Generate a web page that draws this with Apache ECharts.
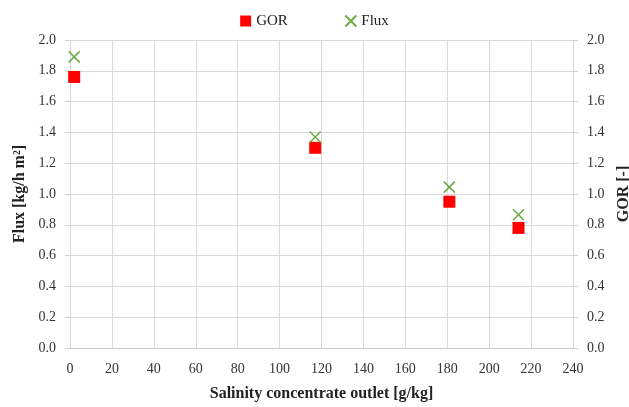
<!DOCTYPE html>
<html><head><meta charset="utf-8">
<script src="https://cdn.jsdelivr.net/npm/echarts@6/dist/echarts.min.js"></script>
<style>html,body{margin:0;padding:0;background:#fff}#c{width:629px;height:407px}</style>
</head><body><div id="c"></div>
<script>
const salinity = [2, 117, 181, 214];
const gor = [1.76, 1.30, 0.95, 0.78];
const flux = [1.89, 1.37, 1.045, 0.865];
const xTitle = 'Salinity concentrate outlet [g/kg]';
const yLeftTitle = 'Flux [kg/h m²]';
const yRightTitle = 'GOR [-]';

const font = 'Liberation Serif';
const chart = echarts.init(document.getElementById('c'));
const pairs = (xs, ys) => xs.map((x, i) => [x, ys[i]]);
const yAxisBase = {
  type: 'value', min: 0, max: 2, interval: 0.2,
  nameLocation: 'middle',
  nameTextStyle: {fontFamily: font, fontWeight: 'bold', fontSize: 16, color: '#222'},
  axisLabel: {fontFamily: font, fontSize: 14, color: '#333', margin: 14, formatter: v => v.toFixed(1)},
  axisLine: {show: false},
  axisTick: {show: true, length: 5, lineStyle: {color: '#d0d0d0'}},
  splitLine: {lineStyle: {color: '#d9d9d9'}}
};
chart.setOption({
  animation: false,
  legend: {
    top: 8, left: 'center', itemGap: 55, itemWidth: 11, itemHeight: 11,
    textStyle: {fontFamily: font, fontSize: 15, color: '#222'},
    data: ['GOR', 'Flux']
  },
  grid: {left: 70, right: 56, top: 40, bottom: 59, containLabel: false, outerBoundsMode: 'none'},
  xAxis: {
    type: 'value', min: 0, max: 240, interval: 20,
    name: xTitle, nameLocation: 'middle', nameGap: 38,
    nameTextStyle: {fontFamily: font, fontWeight: 'bold', fontSize: 16, color: '#222'},
    axisLabel: {fontFamily: font, fontSize: 14, color: '#333', margin: 14},
    axisLine: {show: true, lineStyle: {color: '#c8c8c8'}},
    axisTick: {show: false},
    splitLine: {show: true, lineStyle: {color: '#d9d9d9'}}
  },
  yAxis: [
    Object.assign({}, yAxisBase, {position: 'left', name: yLeftTitle, nameGap: 42}),
    Object.assign({}, yAxisBase, {position: 'right', name: yRightTitle, nameGap: 38, nameRotate: 90, splitLine: {show: false}})
  ],
  series: [
    {name: 'GOR', type: 'scatter', yAxisIndex: 1, symbol: 'rect', symbolSize: 12,
     itemStyle: {color: '#ff0000', opacity: 1}, data: pairs(salinity, gor)},
    {name: 'Flux', type: 'scatter', yAxisIndex: 0, symbol: 'path://M0,0L10,10M10,0L0,10', symbolSize: 11,
     itemStyle: {color: 'none', borderColor: '#70ad47', borderWidth: 1.6, opacity: 1}, data: pairs(salinity, flux)}
  ]
});
</script></body></html>
